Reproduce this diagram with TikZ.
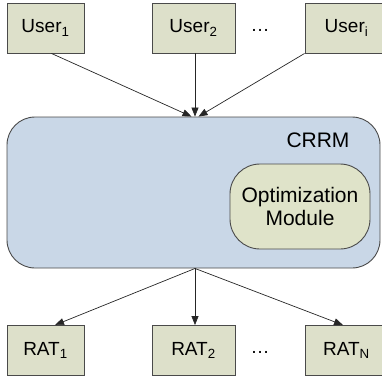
\documentclass[tikz,border=0pt]{standalone}
\usepackage{fontspec}
\setmainfont{Liberation Sans}
\usetikzlibrary{arrows.meta}
\definecolor{boxfill}{HTML}{DDE0CA}
\definecolor{crrmfill}{HTML}{C9D7E7}
\definecolor{optfill}{HTML}{DFE3C9}
\definecolor{edgegray}{HTML}{4A4A4A}
\tikzset{
  unitbox/.style={draw=edgegray, line width=0.9pt, fill=boxfill, rectangle, minimum height=50pt, inner sep=0pt, font=\fontsize{19}{22}\selectfont},
  link/.style={draw=black!85, line width=0.7pt, -{Triangle[length=9pt,width=7pt]}},
  dotsl/.style={font=\fontsize{19}{22}\selectfont, inner sep=0pt}
}
\begin{document}
\begin{tikzpicture}[x=1pt,y=-1pt]
\useasboundingbox (0,0) rectangle (382,381);
\clip (0,0) rectangle (382,381);
% users
\node[unitbox, minimum width=77pt] (u1) at (45.5,28) {User\textsubscript{1}};
\node[unitbox, minimum width=83pt] (u2) at (193.5,28) {User\textsubscript{2}};
\node[unitbox, minimum width=83pt] (ui) at (346.5,28) {User\textsubscript{i}};
\node[dotsl] (d1) at (260,30) {\ldots};
% CRRM
\node[draw=edgegray, line width=0.9pt, fill=crrmfill, rectangle, rounded corners=28pt, minimum width=373pt, minimum height=151pt, inner sep=0pt] (crrm) at (193.5,192.5) {};
\node[font=\fontsize{21}{24}\selectfont, inner sep=0pt] (crrmlabel) at (318,140) {CRRM};
\node[draw=edgegray, line width=0.9pt, fill=optfill, rectangle, rounded corners=30pt, minimum width=140pt, minimum height=85pt, inner sep=0pt, align=center, font=\fontsize{21}{23}\selectfont] (opt) at (300,206.5) {Optimization\\Module};
% RATs
\node[unitbox, minimum width=77pt] (r1) at (45.5,350.5) {RAT\textsubscript{1}};
\node[unitbox, minimum width=83pt] (r2) at (193.5,350.5) {RAT\textsubscript{2}};
\node[unitbox, minimum width=83pt] (rn) at (346.5,350.5) {RAT\textsubscript{N}};
\node[dotsl] (d2) at (260,352) {\ldots};
% connectors
\draw[link] ([xshift=6pt]u1.south) -- ([xshift=-2pt]crrm.north);
\draw[link] ([xshift=1.5pt]u2.south) -- ([xshift=1.5pt]crrm.north);
\draw[link] (ui.south west) -- ([xshift=5pt]crrm.north);
\draw[link] ([xshift=1.5pt]crrm.south) -- ([xshift=9.5pt]r1.north);
\draw[link] ([xshift=1.5pt]crrm.south) -- ([xshift=1.5pt]r2.north);
\draw[link] ([xshift=1.5pt]crrm.south) -- ([xshift=-3.5pt]rn.north);
\end{tikzpicture}
\end{document}
